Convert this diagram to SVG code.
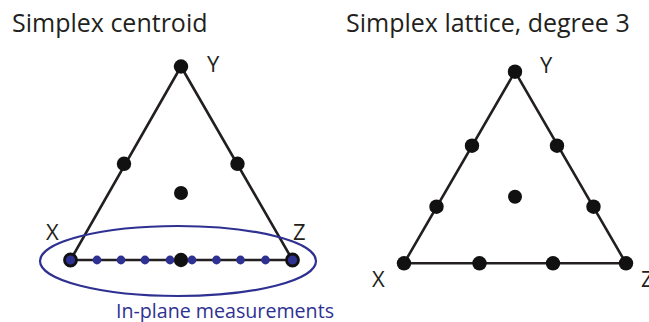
<svg xmlns="http://www.w3.org/2000/svg" width="649" height="322" viewBox="0 0 649 322">
<style>
.t{font-family:"Open Sans","Noto Sans","Liberation Sans",sans-serif;fill:#231f20}
.title{font-size:25px}
.lab{font-size:22px}
.edge{stroke:#231f20;stroke-width:2.6;fill:none;stroke-linejoin:round}
.pt{fill:#111}
.bp{fill:#2e3192}
.end{fill:#2e3192;stroke:#111;stroke-width:2.8}
.ell{fill:none;stroke:#2e3192;stroke-width:2.2}
.blue{font-family:"Open Sans","Noto Sans","Liberation Sans",sans-serif;fill:#2e3192;font-size:19.5px}
</style>
<rect width="649" height="322" fill="#fff"/>
<text class="t title" x="12" y="32">Simplex centroid</text>
<text class="t title" x="346" y="32">Simplex lattice, degree 3</text>
<g id="connectors">
<polygon class="edge" points="181,66.5 70.5,260 292.5,260"/>
<polygon class="edge" points="515,71.7 404,263.3 626,263.3"/>
</g>
<g id="left-labels">
<text class="t lab" x="207" y="72">Y</text>
<text class="t lab" x="46" y="240">X</text>
<text class="t lab" x="293" y="240">Z</text>
</g>
<g id="left-points">
<circle id="L-Y" class="pt" cx="181" cy="66.5" r="7.2"/>
<circle id="L-XY" class="pt" cx="124" cy="163.8" r="7.2"/>
<circle id="L-YZ" class="pt" cx="237.5" cy="163.8" r="7.2"/>
<circle id="L-C" class="pt" cx="181" cy="193" r="7"/>
<circle id="L-XZ" class="pt" cx="181" cy="260" r="7.2"/>
</g>
<g id="in-plane">
<ellipse class="ell" cx="178" cy="261" rx="138" ry="35"/>
<circle class="end" cx="70.5" cy="260" r="6"/>
<circle class="end" cx="292.5" cy="260" r="6"/>
<circle class="bp" cx="97" cy="260" r="4.4"/>
<circle class="bp" cx="121" cy="260" r="4.4"/>
<circle class="bp" cx="145" cy="260" r="4.4"/>
<circle class="bp" cx="170" cy="260" r="4.4"/>
<circle class="bp" cx="192" cy="260" r="4.4"/>
<circle class="bp" cx="216.5" cy="260" r="4.4"/>
<circle class="bp" cx="240.5" cy="260" r="4.4"/>
<circle class="bp" cx="265.5" cy="260" r="4.4"/>
<text class="blue" x="116" y="318" textLength="218" lengthAdjust="spacingAndGlyphs">In-plane measurements</text>
</g>
<g id="right-labels">
<text class="t lab" x="540" y="73">Y</text>
<text class="t lab" x="372" y="287">X</text>
<text class="t lab" x="641" y="287">Z</text>
</g>
<g id="right-points">
<circle id="R-Y" class="pt" cx="515" cy="71.7" r="7.2"/>
<circle id="R-XY1" class="pt" cx="472" cy="145.7" r="7.2"/>
<circle id="R-XY2" class="pt" cx="436.5" cy="206.7" r="7.2"/>
<circle id="R-YZ1" class="pt" cx="557" cy="145.7" r="7.2"/>
<circle id="R-YZ2" class="pt" cx="593.5" cy="206.7" r="7.2"/>
<circle id="R-C" class="pt" cx="515" cy="196.7" r="7"/>
<circle id="R-X" class="pt" cx="404" cy="263.3" r="7.2"/>
<circle id="R-XZ1" class="pt" cx="479.5" cy="263.3" r="7.2"/>
<circle id="R-XZ2" class="pt" cx="553" cy="263.3" r="7.2"/>
<circle id="R-Z" class="pt" cx="626" cy="263.3" r="7.2"/>
</g>
</svg>
